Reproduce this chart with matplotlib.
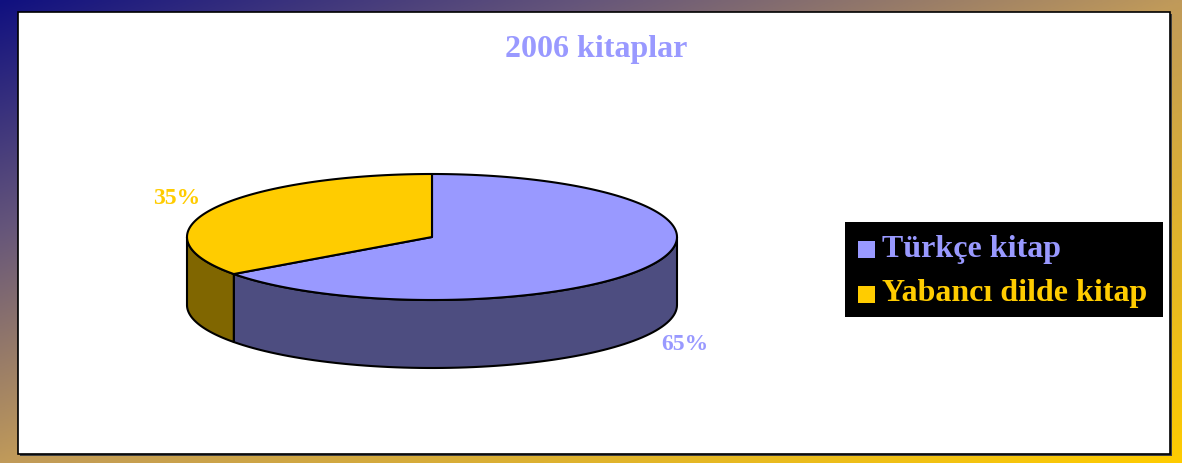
import numpy as np
import matplotlib.pyplot as plt
from matplotlib.patches import Polygon, Rectangle

# veri
labels = ["Türkçe kitap", "Yabancı dilde kitap"]
values = [65, 35]
top_colors = ["#9999ff", "#ffcc00"]
side_colors = ["#4d4d80", "#806600"]
title = "2006 kitaplar"

W, H = 1182, 463
fig = plt.figure(figsize=(W / 100, H / 100), dpi=100)

# gradient çerçeve (sol üst lacivert -> sağ alt altın)
bg = fig.add_axes([0, 0, 1, 1])
yy, xx = np.mgrid[0:1:200j, 0:1:500j]
t = (xx + yy) / 2
stops = [0.0, 0.25, 0.5, 1.0]
cols = np.array([[0x10, 0x10, 0x80], [0x66, 0x56, 0x7a],
                 [0xc0, 0x9a, 0x5a], [0xff, 0xcc, 0x00]]) / 255
img = np.stack([np.interp(t, stops, cols[:, k]) for k in range(3)], axis=-1)
bg.imshow(img, extent=[0, W, H, 0], origin="upper", aspect="auto")
bg.set_xlim(0, W)
bg.set_ylim(H, 0)
bg.axis("off")

ax = fig.add_axes([0, 0, 1, 1])
ax.set_xlim(0, W)
ax.set_ylim(H, 0)
ax.axis("off")

# beyaz panel
ax.add_patch(Rectangle((20, 14), 1152, 442, facecolor="#404040", edgecolor="none"))
ax.add_patch(Rectangle((18, 12), 1152, 442, facecolor="white", edgecolor="black", lw=1.2))

ax.text(596, 49, title, ha="center", va="center", color="#9999ff",
        fontsize=23, fontweight="bold", family="Liberation Serif")

# 3D pasta
cx, cy, rx, ry, depth = 432, 237, 245, 63, 68


def ell(a):
    r = np.radians(a)
    return cx + rx * np.cos(r), cy - ry * np.sin(r)


total = sum(values)
spans = []
start = 90.0
for v in values:
    ext = 360.0 * v / total
    spans.append((start - ext, start))
    start -= ext

# yan duvarlar (ön yarı: 180..360)
for (a0, a1), sc in zip(spans, side_colors):
    for off in (0, 360, -360):
        lo, hi = max(a0 + off, 180), min(a1 + off, 360)
        if hi > lo:
            ang = np.linspace(lo, hi, 80)
            x, y = ell(ang)
            pts = np.column_stack([np.r_[x, x[::-1]], np.r_[y, (y + depth)[::-1]]])
            ax.add_patch(Polygon(pts, closed=True, facecolor=sc,
                                 edgecolor="black", lw=1.5, joinstyle="round"))

# üst yüzeyler
for (a0, a1), tc in zip(spans, top_colors):
    ang = np.linspace(a0, a1, 200)
    x, y = ell(ang)
    pts = np.column_stack([np.r_[cx, x], np.r_[cy, y]])
    ax.add_patch(Polygon(pts, closed=True, facecolor=tc,
                         edgecolor="black", lw=1.5, joinstyle="round"))

# yüzde etiketleri
pct_pos = [(685, 344), (177, 199)]
for v, tc, (px, py) in zip(values, top_colors, pct_pos):
    ax.text(px, py, f"{round(100 * v / total)}%", ha="center", va="center",
            color=tc, fontsize=17, fontweight="bold", family="Liberation Serif")

# lejant
ax.add_patch(Rectangle((845, 222), 318, 95, facecolor="black", edgecolor="none"))
for i, (lab, tc) in enumerate(zip(labels, top_colors)):
    yc = 249 + i * 45
    ax.add_patch(Rectangle((858, yc - 8), 17, 17, facecolor=tc, edgecolor="none"))
    ax.text(882, yc, lab, ha="left", va="center", color=tc,
            fontsize=23, fontweight="bold", family="Liberation Serif")

fig.savefig("out.png", dpi=100)
